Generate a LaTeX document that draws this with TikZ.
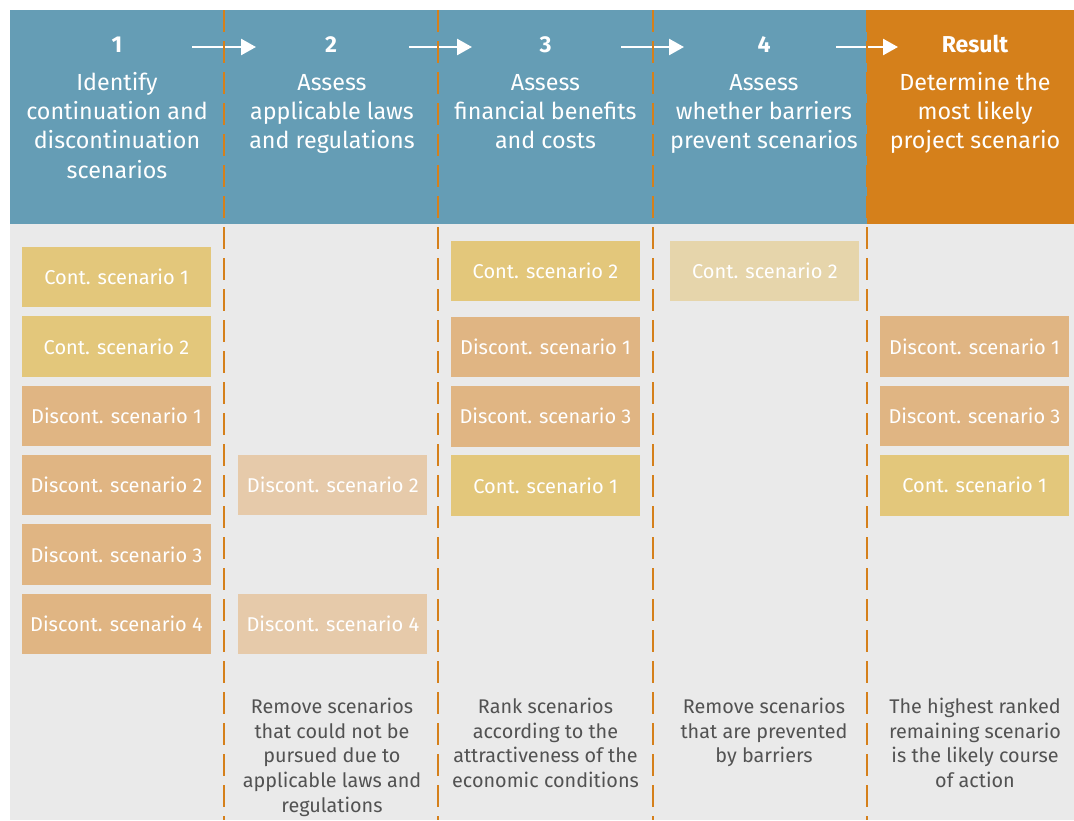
\documentclass[tikz,border=0pt]{standalone}
\usepackage{fontspec}
\setmainfont{Fira Sans}
\usetikzlibrary{arrows.meta, positioning}

\definecolor{headblue}{HTML}{659DB5}
\definecolor{resorange}{HTML}{D5801B}
\definecolor{panelgrey}{HTML}{EAEAEA}
\definecolor{contyellow}{HTML}{E3C77B}
\definecolor{disctan}{HTML}{E0B583}
\definecolor{discpale}{HTML}{E6CAAA}
\definecolor{contpale}{HTML}{E6D5AB}
\definecolor{notegrey}{HTML}{525252}

\tikzset{
  scenbox/.style={rectangle, minimum width=189pt, minimum height=60.5pt, inner sep=0pt, text=white, font=\fontsize{20}{24}\selectfont},
  contbox/.style={scenbox, fill=contyellow},
  discbox/.style={scenbox, fill=disctan},
  discgone/.style={scenbox, fill=discpale},
  contgone/.style={scenbox, fill=contpale},
  headnum/.style={anchor=base, text=white, font=\fontsize{23}{29.3}\selectfont\bfseries},
  headtxt/.style={anchor=base, text=white, font=\fontsize{23.3}{29.3}\selectfont},
  note/.style={anchor=base, text=notegrey, font=\fontsize{19.8}{24.8}\selectfont},
  flow/.style={white, line width=2.5pt, -{Triangle[length=15pt,width=16pt]}},
  colsep/.style={resorange, line width=2.5pt, dash pattern=on 22pt off 9pt}
}

\begin{document}
\begin{tikzpicture}[x=1pt, y=-1pt, every node/.style={align=center}]
   \useasboundingbox (0,0) rectangle (1074,820);
   \fill[white] (0,0) rectangle (1074,820);
   \fill[headblue] (10,10) rectangle (867,224);
   \fill[resorange] (867,10) rectangle (1074,224);
   \fill[panelgrey] (10,224) rectangle (1074,820);

   % header (base = baseline of the last line)
   \node[headnum] (num1) at (117,52) {1};
   \node[headnum] (num2) at (331,52) {2};
   \node[headnum] (num3) at (545.5,52) {3};
   \node[headnum] (num4) at (764,52) {4};
   \node[headnum] (numres) at (975,52) {Result};
   \node[headtxt] (head1) at (117,178) {Identify\\continuation and\\discontinuation\\scenarios};
   \node[headtxt] (head2) at (332,148.6) {Assess\\applicable laws\\and regulations};
   \node[headtxt] (head3) at (545.5,148.6) {Assess\\financial benefits\\and costs};
   \node[headtxt] (head4) at (764,148.6) {Assess\\whether barriers\\prevent scenarios};
   \node[headtxt] (headres) at (975,148.6) {Determine the\\most likely\\project scenario};

   \coordinate (f1s) at (192,47); \coordinate (f1e) at (256,47);
   \coordinate (f2s) at (409,47); \coordinate (f2e) at (472,47);
   \coordinate (f3s) at (621,47); \coordinate (f3e) at (684,47);
   \coordinate (f4s) at (836,47); \coordinate (f4e) at (898,47);
   \draw[flow] (f1s) -- (f1e);
   \draw[flow] (f2s) -- (f2e);
   \draw[flow] (f3s) -- (f3e);
   \draw[flow] (f4s) -- (f4e);

   % column separators
   \coordinate (s1t) at (224,10); \coordinate (s1b) at (224,820);
   \coordinate (s2t) at (438,10); \coordinate (s2b) at (438,820);
   \coordinate (s3t) at (653,10); \coordinate (s3b) at (653,820);
   \coordinate (s4t) at (867,10); \coordinate (s4b) at (867,820);
   \draw[colsep] (s1t) -- (s1b);
   \draw[colsep] (s2t) -- (s2b);
   \draw[colsep] (s3t) -- (s3b);
   \draw[colsep] (s4t) -- (s4b);

   % step 1
   \node[contbox] (c1) at (116.5,277) {Cont. scenario 1};
   \node[contbox, below=8.5pt of c1] (c2) {Cont. scenario 2};
   \node[discbox, below=8.5pt of c2] (d1) {Discont. scenario 1};
   \node[discbox, below=8.5pt of d1] (d2) {Discont. scenario 2};
   \node[discbox, below=8.5pt of d2] (d3) {Discont. scenario 3};
   \node[discbox, below=8.5pt of d3] (d4) {Discont. scenario 4};

   % step 2
   \node[discgone, right=27pt of d2] (lawd2) {Discont. scenario 2};
   \node[discgone, right=27pt of d4] (lawd4) {Discont. scenario 4};

   % step 3
   \node[contbox] (rankc2) at (545.5,271) {Cont. scenario 2};
   \node[discbox, below=15pt of rankc2] (rankd1) {Discont. scenario 1};
   \node[discbox, below=8.5pt of rankd1] (rankd3) {Discont. scenario 3};
   \node[contbox, below=8.5pt of rankd3] (rankc1) {Cont. scenario 1};

   % step 4
   \node[contgone, right=30pt of rankc2] (barc2) {Cont. scenario 2};

   % result
   \node[discbox] (resd1) at (974.5,346.5) {Discont. scenario 1};
   \node[discbox, below=8.5pt of resd1] (resd3) {Discont. scenario 3};
   \node[contbox, below=8.5pt of resd3] (resc1) {Cont. scenario 1};

   % notes (base = baseline of the last line)
   \node[note] (note2) at (332,812.5) {Remove scenarios\\that could not be\\pursued due to\\applicable laws and\\regulations};
   \node[note] (note3) at (545.5,787.7) {Rank scenarios\\according to the\\attractiveness of the\\economic conditions};
   \node[note] (note4) at (764,762.9) {Remove scenarios\\that are prevented\\by barriers};
   \node[note] (noteres) at (975,787.7) {The highest ranked\\remaining scenario\\is the likely course\\of action};
\end{tikzpicture}
\end{document}
